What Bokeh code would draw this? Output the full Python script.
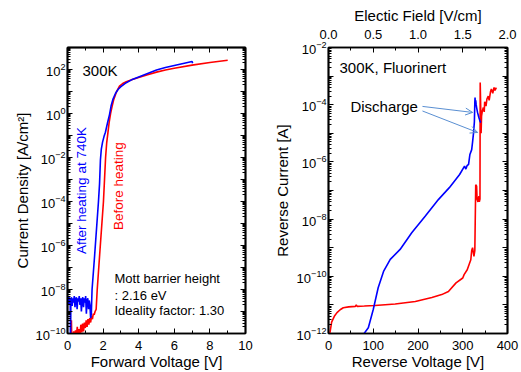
import math
from bokeh.plotting import figure
from bokeh.layouts import row
from bokeh.models import FixedTicker, LogAxis, LinearAxis, Range1d
from bokeh.core.properties import value
from bokeh.embed import file_html
from bokeh.resources import INLINE

FONT = "Liberation Sans"

# ---------------- data: forward characteristics (left) ----------------
# values given as log10(J [A/cm^2])
fwd_after_v = [0.00, 0.03, 0.06, 0.09, 0.12, 0.15, 0.17, 0.19, 0.22, 0.26, 0.30, 0.34, 0.38,
               0.42, 0.46, 0.50, 0.54, 0.58, 0.62, 0.66, 0.70, 0.74, 0.78, 0.82, 0.86, 0.90,
               0.94, 0.98, 1.02, 1.06, 1.10, 1.14, 1.18, 1.22, 1.26, 1.30, 1.34, 1.36, 1.38,
               1.52, 1.74, 1.80, 1.85, 1.90, 1.97, 2.05, 2.13, 2.25, 2.36, 2.45, 2.55, 2.70,
               2.85, 3.00, 3.30, 3.60, 4.00, 4.50, 5.00, 5.50, 6.00, 6.50, 7.00, 7.03]
fwd_after_logj = [-8.45, -8.30, -8.70, -8.35, -8.60, -8.40, -10.5, -8.50, -8.35, -8.75, -8.40,
                  -8.60, -8.30, -8.80, -8.45, -8.35, -8.90, -8.40, -8.55, -8.30, -8.70, -8.40,
                  -9.00, -8.45, -8.35, -8.80, -8.40, -8.60, -8.30, -9.10, -8.50, -8.40, -8.90,
                  -8.50, -8.70, -9.30, -9.10, -8.50, -8.00, -6.50, -4.00, -3.20, -2.10, -1.62,
                  -1.30, -1.05, -0.85, -0.42, -0.05, 0.35, 0.64, 0.92, 1.10, 1.22, 1.40, 1.53,
                  1.66, 1.82, 1.98, 2.09, 2.18, 2.27, 2.36, 2.28]

fwd_before_v = [0.20, 0.22, 0.24, 0.30, 0.35, 0.40, 0.45, 0.50, 0.55, 0.60, 0.65, 0.70, 0.75,
                0.80, 0.85, 0.90, 0.95, 1.00, 1.05, 1.10, 1.15, 1.20, 1.25, 1.30, 1.35, 1.40,
                1.45, 1.50, 1.55, 1.61, 1.67, 1.80, 2.02, 2.08, 2.14, 2.20, 2.27, 2.34, 2.42,
                2.50, 2.60, 2.75, 2.92, 3.10, 3.30, 3.60, 4.00, 4.50, 5.00, 5.50, 6.00, 7.00,
                8.00, 9.00]
fwd_before_logj = [-10.3, -9.40, -10.2, -10.4, -9.90, -10.3, -9.85, -10.1, -9.70, -10.2, -9.80,
                   -10.05, -9.60, -9.95, -9.55, -9.90, -9.50, -9.75, -9.40, -9.70, -9.35, -9.60,
                   -9.30, -9.50, -9.20, -9.35, -9.10, -9.15, -9.00, -8.90, -8.00, -6.50, -4.00,
                   -3.00, -2.00, -1.35, -0.88, -0.40, 0.00, 0.30, 0.64, 0.98, 1.24, 1.36, 1.44,
                   1.53, 1.64, 1.76, 1.88, 1.98, 2.06, 2.20, 2.32, 2.42]

# ---------------- data: reverse characteristics (right) ----------------
# values given as log10(I [A])
rev_after_v = [70, 78, 89, 100, 111, 123, 138, 160, 186, 216, 246, 270, 293, 304, 307, 310, 313,
               316, 320, 322, 324, 326, 327, 327.5, 328, 329, 330, 331, 333, 336, 339, 341]
rev_after_logi = [-12.3, -12.03, -11.8, -11.16, -10.4, -9.83, -9.41, -9.06, -8.48, -7.9, -7.31,
                  -6.9, -6.44, -6.15, -6.25, -6.12, -6.09, -5.74, -5.57, -5.3, -5.0, -4.6, -3.9,
                  -3.75, -3.9, -3.85, -4.0, -4.1, -4.27, -4.45, -4.6, -4.62]

rev_before_v = [0, 3, 7, 13, 19, 26, 33, 45, 60, 62, 64, 80, 104, 149, 194, 231, 253, 268, 285,
                300, 303, 310, 318, 320, 322, 325, 327, 329, 331, 332, 334, 336, 337, 338.5, 339,
                340, 341, 342, 344, 346, 348, 349, 352, 354, 357, 359, 362, 364, 367, 370, 372,
                375]
rev_before_logi = [-12.3, -12.0, -11.6, -11.4, -11.27, -11.17, -11.1, -11.07, -11.05, -11.0,
                   -11.05, -11.04, -11.02, -10.97, -10.88, -10.74, -10.64, -10.53, -10.23,
                   -10.06, -9.94, -9.77, -9.42, -9.1, -9.0, -9.3, -9.1, -6.8, -6.85, -7.3, -7.4,
                   -7.2, -7.4, -7.3, -3.22, -4.0, -5.0, -4.4, -4.2, -4.1, -4.25, -3.9, -4.05,
                   -3.8, -3.7, -3.85, -3.55, -3.45, -3.6, -3.4, -3.5, -3.4]

# top axis of the right panel: electric field labels at reverse-voltage positions
field_tick_v = [0, 100, 200, 300, 400]
field_tick_labels = ["0.0", "0.5", "1.0", "1.5", "2.0"]

# annotations
fwd_label_text = ["After heating at 740K", "Before heating"]
fwd_label_x = [0.79, 2.87]
fwd_label_logy = [-3.5, -3.3]
mott_text = ["Mott barrier height", ": 2.16 eV", "Ideality factor: 1.30"]
mott_x = [2.64, 2.64, 2.64]
mott_logy = [-7.5, -8.27, -8.95]
discharge_start = [(210, -4.06), (210, -4.22)]
discharge_end = [(322, -4.27), (333, -4.97)]
ARROW_COLOR = "#5A8FD2"

FRAME_W1, FRAME_W2, FRAME_H = 178, 179, 286
TOP, BOTTOM = 47, 39


def tens(arr):
    return [10.0 ** a for a in arr]


def style_axis(ax):
    ax.axis_line_color = "black"
    ax.axis_line_width = 1.5
    ax.major_tick_in = 5
    ax.major_tick_out = 0
    ax.minor_tick_in = 3
    ax.minor_tick_out = 0
    ax.major_tick_line_color = "black"
    ax.minor_tick_line_color = "black"
    ax.major_label_text_font = FONT
    ax.major_label_text_color = "black"
    ax.major_label_text_font_size = "13px"
    ax.major_label_standoff = 4
    ax.axis_label_text_font = FONT
    ax.axis_label_text_font_style = "normal"
    ax.axis_label_text_font_size = "15px"
    ax.axis_label_text_color = "black"


def tick_only_axis(p, cls, side, positions, length):
    """An axis that draws only tick marks (no labels) at the frame edge."""
    ax = cls(ticker=FixedTicker(ticks=[], minor_ticks=positions))
    style_axis(ax)
    ax.minor_tick_in = length
    ax.major_label_standoff = 0
    ax.axis_label_standoff = 0
    p.add_layout(ax, side)
    return ax


def log_axes(p, lo, hi, label):
    evens = [10.0 ** k for k in range(lo, hi + 1) if k % 2 == 0]
    odds = [10.0 ** k for k in range(lo, hi + 1) if k % 2 != 0]
    alld = [10.0 ** k for k in range(lo, hi + 1)]
    minors = [m * 10.0 ** k for k in range(lo, hi) for m in range(2, 10)]

    tick_only_axis(p, LogAxis, "left", odds, 5)
    main = LogAxis(ticker=FixedTicker(ticks=evens, minor_ticks=minors), axis_label=label)
    style_axis(main)
    main.major_label_standoff = 2
    p.add_layout(main, "left")

    tick_only_axis(p, LogAxis, "right", alld, 5)
    tick_only_axis(p, LogAxis, "right", minors, 3)
    return main


def base_figure(border_left, frame_w, border_right, xr, yr):
    p = figure(width=border_left + frame_w + border_right, height=TOP + FRAME_H + BOTTOM,
               min_border_left=border_left, min_border_right=border_right,
               min_border_top=TOP, min_border_bottom=BOTTOM,
               y_axis_type="log", y_axis_location=None,
               x_range=xr, y_range=yr, output_backend="svg", toolbar_location=None)
    p.xgrid.visible = False
    p.ygrid.visible = False
    p.outline_line_color = "black"
    p.outline_line_width = 1.5
    return p


def bottom_axis(p, ticks, minors, label):
    p.xaxis.ticker = FixedTicker(ticks=ticks, minor_ticks=minors)
    for ax in p.xaxis:
        style_axis(ax)
        ax.major_label_standoff = 7
        ax.axis_label = label
        ax.axis_label_standoff = 0


# ---------------- left figure ----------------
p1 = base_figure(67, FRAME_W1, 14, Range1d(0, 10), Range1d(1e-10, 1e3))
bottom_axis(p1, [0, 2, 4, 6, 8, 10], [1, 3, 5, 7, 9], "Forward Voltage [V]")
main1 = log_axes(p1, -10, 3, "Current Density [A/cm²]")
main1.axis_label_standoff = 2
tick_only_axis(p1, LinearAxis, "above", [0, 2, 4, 6, 8, 10], 5)
tick_only_axis(p1, LinearAxis, "above", [1, 3, 5, 7, 9], 3)

p1.line(fwd_before_v, tens(fwd_before_logj), line_color="red", line_width=1.6)
p1.line(fwd_after_v, tens(fwd_after_logj), line_color="blue", line_width=1.6)

p1.text(x=[0.84], y=[10 ** 1.97], text=["300K"], text_font=value(FONT),
        text_font_size="15px", text_baseline="middle", text_align="left", text_color="black")
p1.text(x=fwd_label_x, y=tens(fwd_label_logy), text=fwd_label_text, angle=math.pi / 2,
        text_font=value(FONT), text_font_size="13.5px", text_baseline="middle",
        text_align="center", text_color=["blue", "red"])
p1.text(x=mott_x, y=tens(mott_logy), text=mott_text, text_font=value(FONT),
        text_font_size="13px", text_baseline="middle", text_align="left", text_color="black")

# ---------------- right figure ----------------
p2 = base_figure(69, FRAME_W2, 12, Range1d(0, 400), Range1d(1e-12, 1e-2))
bottom_axis(p2, [0, 100, 200, 300, 400], [50, 150, 250, 350], "Reverse Voltage [V]")
main2 = log_axes(p2, -12, -2, "Reverse Current [A]")
main2.axis_label_standoff = 3

top2 = LinearAxis(ticker=FixedTicker(ticks=field_tick_v, minor_ticks=[50, 150, 250, 350]),
                  axis_label="Electic Field [V/cm]")
top2.major_label_overrides = dict(zip(field_tick_v, field_tick_labels))
style_axis(top2)
top2.major_label_standoff = 9
top2.axis_label_standoff = 3
p2.add_layout(top2, "above")

p2.line(rev_before_v, tens(rev_before_logi), line_color="red", line_width=1.6)
p2.line(rev_after_v, tens(rev_after_logi), line_color="blue", line_width=1.6)

p2.text(x=[24.6], y=[10 ** -2.7], text=["300K, Fluorinert"], text_font=value(FONT),
        text_font_size="15px", text_baseline="middle", text_align="left", text_color="black")
p2.text(x=[49], y=[10 ** -4.06], text=["Discharge"], text_font=value(FONT),
        text_font_size="15px", text_baseline="middle", text_align="left", text_color="black")

px_per_v = FRAME_W2 / 400.0
px_per_dec = FRAME_H / 10.0
x0s, y0s, x1s, y1s = [], [], [], []
for (xs, ys), (xe, ye) in zip(discharge_start, discharge_end):
    x0s.append(xs); y0s.append(10 ** ys); x1s.append(xe); y1s.append(10 ** ye)
    ang = math.atan2(-(ye - ys) * px_per_dec, (xe - xs) * px_per_v)
    for w in (0.45, -0.45):
        hx = xe - 8 * math.cos(ang + w) / px_per_v
        hy = ye + 8 * math.sin(ang + w) / px_per_dec
        x0s.append(hx); y0s.append(10 ** hy); x1s.append(xe); y1s.append(10 ** ye)
p2.segment(x0=x0s, y0=y0s, x1=x1s, y1=y1s, line_color=ARROW_COLOR, line_width=1)

layout = row(p1, p2)
open("out.html", "w").write(file_html(layout, INLINE))
